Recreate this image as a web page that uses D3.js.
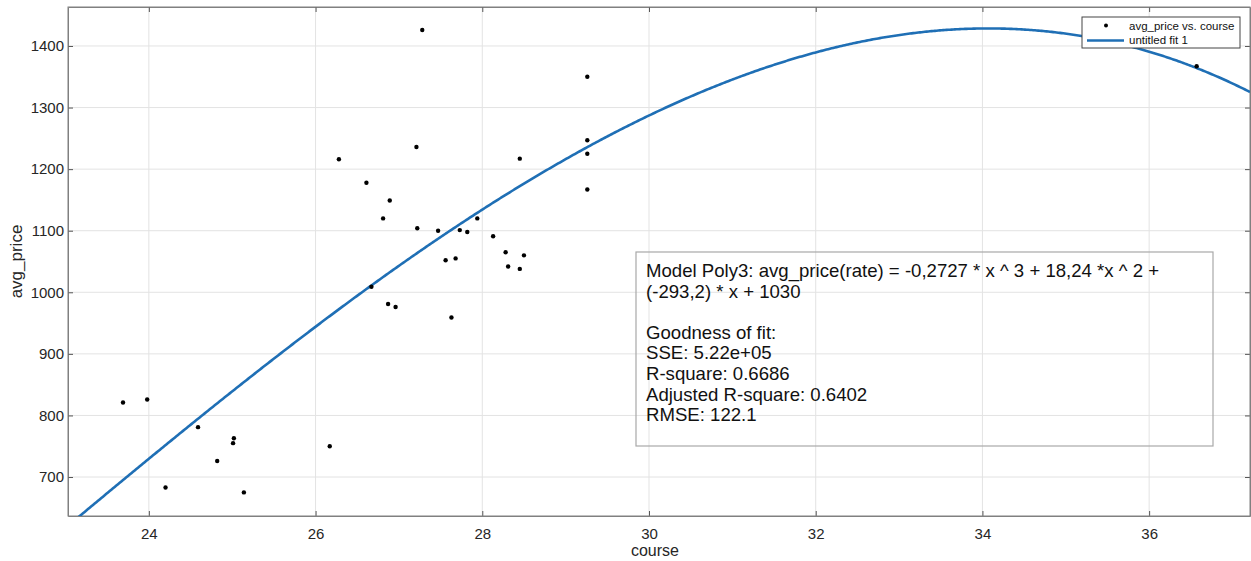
<!DOCTYPE html>
<html><head><meta charset="utf-8">
<script src="https://cdn.jsdelivr.net/npm/d3@7"></script>
<style>
body{margin:0;background:#fff;}
svg{display:block;font-family:"Liberation Sans",Arial,Helvetica,sans-serif;}
</style>
</head><body><svg id="chart" width="1251" height="561"></svg>
<script>
// ---- data ----
const course = [23.69, 23.98, 24.59, 25.02, 25.01, 24.82, 24.20, 25.14, 26.17,
  27.28, 29.26, 27.21, 26.28, 28.45, 29.26, 29.26, 26.61, 29.26, 26.89, 26.81,
  27.22, 27.47, 27.73, 27.82, 27.94, 28.13, 28.28, 28.50, 28.31, 28.45, 27.56,
  27.68, 26.67, 26.87, 26.96, 27.63, 36.57];
const avgPrice = [821, 826, 781, 763, 755, 726, 683, 675, 750,
  1426, 1350, 1236, 1216, 1217, 1247, 1225, 1178, 1167, 1149, 1120,
  1104, 1100, 1101, 1098, 1120, 1091, 1065, 1060, 1042, 1038, 1052,
  1055, 1009, 981, 976, 959, 1367];
const xTicks = [24, 26, 28, 30, 32, 34, 36];
const yTicks = [700, 800, 900, 1000, 1100, 1200, 1300, 1400];
const xDomain = [23.03, 37.21];
const yDomain = [636.7, 1463.3];
// polynomial fit shown in the chart: p1*x^3 + p2*x^2 + p3*x + p4
const fitCoefficients = [-0.2727, 18.24, -293.2, 1030];
const fitTextLines = [
  "Model Poly3: avg_price(rate) = -0,2727 * x ^ 3 + 18,24 *x ^ 2 +",
  "(-293,2) * x + 1030",
  "",
  "Goodness of fit:",
  "SSE: 5.22e+05",
  "R-square: 0.6686",
  "Adjusted R-square: 0.6402",
  "RMSE: 122.1"
];
const legendLabels = ["avg_price vs. course", "untitled fit 1"];
const xLabel = "course", yLabel = "avg_price";

// ---- drawing ----
const svg = d3.select("#chart");
const L = 68, T = 7, R = 1250, B = 516;
const x = d3.scaleLinear().domain(xDomain).range([L, R]);
const y = d3.scaleLinear().domain(yDomain).range([B, T]);
const blue = "#1f6fb5";

svg.append("defs").append("clipPath").attr("id", "clip")
  .append("rect").attr("x", L).attr("y", T).attr("width", R - L).attr("height", B - T);

// grid
const grid = svg.append("g");
grid.selectAll(".gx").data(xTicks).join("line")
  .attr("x1", d => x(d)).attr("x2", d => x(d)).attr("y1", T).attr("y2", B)
  .attr("stroke", "#e3e3e3").attr("stroke-width", 1);
grid.selectAll(".gy").data(yTicks).join("line")
  .attr("y1", d => y(d)).attr("y2", d => y(d)).attr("x1", L).attr("x2", R)
  .attr("stroke", "#e3e3e3").attr("stroke-width", 1);

// axes
const axColor = "#808080";
const xAxis = svg.append("g").attr("transform", `translate(0,${B})`)
  .call(d3.axisBottom(x).tickValues(xTicks).tickFormat(d3.format("d"))
    .tickSizeInner(-5).tickSizeOuter(0).tickPadding(12));
const yAxis = svg.append("g").attr("transform", `translate(${L},0)`)
  .call(d3.axisLeft(y).tickValues(yTicks).tickFormat(d3.format("d"))
    .tickSizeInner(-5).tickSizeOuter(0).tickPadding(4));
svg.append("g").attr("transform", `translate(0,${T})`)
  .call(d3.axisTop(x).tickValues(xTicks).tickSizeInner(-5).tickSizeOuter(0).tickFormat(""));
svg.append("g").attr("transform", `translate(${R},0)`)
  .call(d3.axisRight(y).tickValues(yTicks).tickSizeInner(-5).tickSizeOuter(0).tickFormat(""));
svg.selectAll(".domain").attr("stroke", axColor);
svg.selectAll(".tick line").attr("stroke", "#555");
[xAxis, yAxis].forEach(a => a.selectAll("text")
  .attr("font-size", 15).attr("fill", "#262626")
  .attr("font-family", "'Liberation Sans', Arial, sans-serif"));
svg.append("rect").attr("x", L).attr("y", T).attr("width", R - L).attr("height", B - T)
  .attr("fill", "none").attr("stroke", axColor).attr("stroke-width", 1);

// axis labels
svg.append("text").attr("x", x(30) + 6).attr("y", 556).attr("text-anchor", "middle")
  .attr("font-size", 16).attr("fill", "#262626").text(xLabel);
svg.append("text").attr("transform", `translate(22,${(T + B) / 2}) rotate(-90)`)
  .attr("text-anchor", "middle").attr("font-size", 17).attr("fill", "#262626").text(yLabel);

// fit curve
const poly = v => fitCoefficients.reduce((acc, c) => acc * v + c, 0);
const xs = d3.range(xDomain[0], xDomain[1] + 0.001, 0.02);
svg.append("path").attr("clip-path", "url(#clip)")
  .datum(xs)
  .attr("d", d3.line().x(d => x(d)).y(d => y(poly(d))))
  .attr("fill", "none").attr("stroke", blue).attr("stroke-width", 2.6);

// points
svg.append("g").selectAll("circle").data(course.map((c, i) => [c, avgPrice[i]])).join("circle")
  .attr("cx", d => x(d[0])).attr("cy", d => y(d[1])).attr("r", 2.2).attr("fill", "#000");

// fit info box
svg.append("rect").attr("x", 636).attr("y", 252).attr("width", 577).attr("height", 194)
  .attr("fill", "none").attr("stroke", "#a8a8a8").attr("stroke-width", 1.2);
svg.append("g").selectAll("text").data(fitTextLines).join("text")
  .attr("x", 646).attr("y", (d, i) => 277 + i * 20.6)
  .attr("font-size", 18.6).attr("fill", "#111").text(d => d);

// legend
const lg = svg.append("g");
lg.append("rect").attr("x", 1082).attr("y", 17).attr("width", 158).attr("height", 31)
  .attr("fill", "#fff").attr("stroke", "#444").attr("stroke-width", 1);
lg.append("circle").attr("cx", 1106).attr("cy", 25.5).attr("r", 2).attr("fill", "#000");
lg.append("line").attr("x1", 1087).attr("x2", 1124).attr("y1", 40.5).attr("y2", 40.5)
  .attr("stroke", blue).attr("stroke-width", 2.4);
lg.selectAll("text").data(legendLabels).join("text")
  .attr("x", 1129).attr("y", (d, i) => 29.5 + i * 14.5)
  .attr("font-size", 11.5).attr("fill", "#111").text(d => d);
</script>
</body></html>
